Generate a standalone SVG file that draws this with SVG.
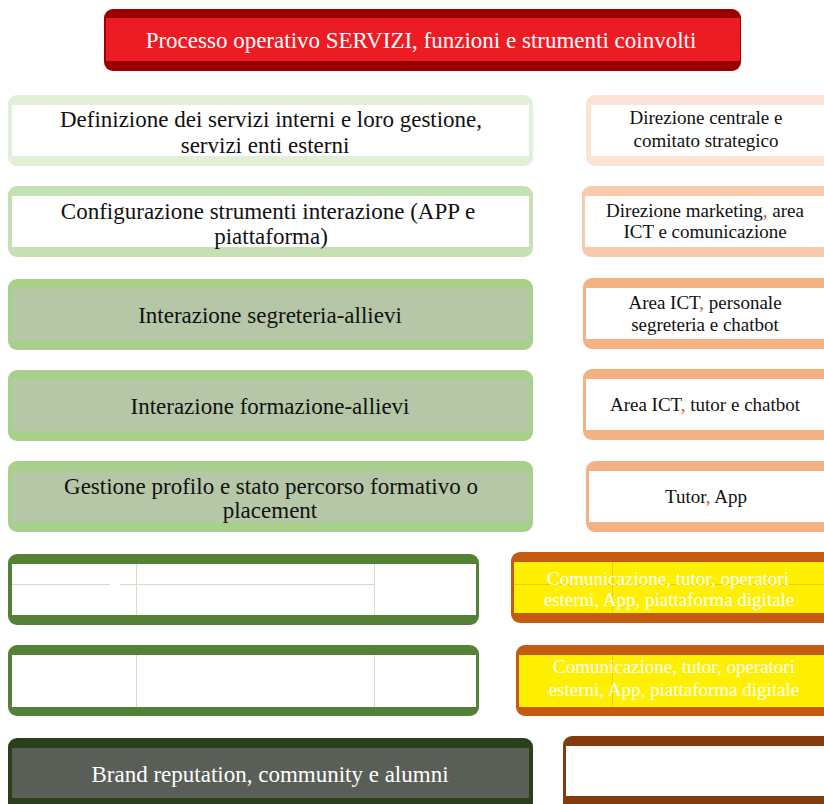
<svg xmlns="http://www.w3.org/2000/svg" width="824" height="804" viewBox="0 0 824 804">
  <style>
    text { font-family: "Liberation Serif", "Times New Roman", serif; text-anchor: middle; }
    .big { font-size: 23px; fill: #111; }
    .small { font-size: 19px; fill: #111; }
    .white { fill: #ffffff; }
    .grid { stroke: #d6dcc6; stroke-width: 1; fill: none; }
    .comma { fill: #c55a11; }
  </style>
  <rect width="824" height="804" fill="#ffffff"/>

  <!-- title -->
  <g id="title">
    <rect x="104" y="9" width="637" height="62" rx="9" fill="#990000"/>
    <rect x="106" y="18" width="634" height="43" fill="#ed1c24"/>
    <text x="421" y="48" class="white" style="font-size:23px">Processo operativo SERVIZI, funzioni e strumenti coinvolti</text>
  </g>

  <!-- process column -->
  <g id="p1">
    <rect x="8" y="95" width="525" height="71" rx="9" fill="#e2efd9"/>
    <rect x="12" y="105" width="517" height="51" fill="#ffffff"/>
    <text x="271" y="127" class="big">Definizione dei servizi interni e loro gestione,</text>
    <text x="265" y="153" class="big">servizi enti esterni</text>
  </g>
  <g id="p2">
    <rect x="8" y="186" width="525" height="71" rx="9" fill="#c5e0b3"/>
    <rect x="12" y="196" width="517" height="51" fill="#ffffff"/>
    <text x="268" y="219" class="big">Configurazione strumenti interazione (APP e</text>
    <text x="271" y="244" class="big">piattaforma)</text>
  </g>
  <g id="p3">
    <rect x="8" y="279" width="525" height="71" rx="9" fill="#a8d08d"/>
    <rect x="12" y="289" width="517" height="51" fill="#b6c7a7"/>
    <text x="270" y="323" class="big">Interazione segreteria-allievi</text>
  </g>
  <g id="p4">
    <rect x="8" y="370" width="525" height="71" rx="9" fill="#a8d08d"/>
    <rect x="12" y="380" width="517" height="51" fill="#b6c7a7"/>
    <text x="270" y="414" class="big">Interazione formazione-allievi</text>
  </g>
  <g id="p5">
    <rect x="8" y="461" width="525" height="71" rx="9" fill="#a8d08d"/>
    <rect x="12" y="471" width="517" height="51" fill="#b6c7a7"/>
    <text x="271" y="494" class="big">Gestione profilo e stato percorso formativo o</text>
    <text x="270" y="518" class="big">placement</text>
  </g>
  <g id="p6">
    <rect x="8" y="554" width="471" height="71" rx="9" fill="#538135"/>
    <rect x="12" y="564" width="464" height="51" fill="#ffffff"/>
    <path class="grid" d="M12 584.5 H110 M120 584.5 H375 M136.5 564 V615 M374.5 564 V615"/>
  </g>
  <g id="p7">
    <rect x="8" y="645" width="471" height="71" rx="9" fill="#538135"/>
    <rect x="12" y="655" width="464" height="52" fill="#ffffff"/>
    <path class="grid" d="M136.5 655 V707 M374.5 655 V707"/>
  </g>
  <g id="p8">
    <rect x="8" y="738" width="525" height="76" rx="9" fill="#2a3f1b"/>
    <rect x="12" y="748" width="517" height="50" fill="#595f57"/>
    <text x="270" y="782" class="white" style="font-size:23px">Brand reputation, community e alumni</text>
  </g>

  <!-- functions / tools column -->
  <g id="f1">
    <rect x="586" y="95" width="260" height="71" rx="9" fill="#fbe4d5"/>
    <rect x="591" y="105" width="250" height="51" fill="#ffffff"/>
    <text x="706" y="124" class="small">Direzione centrale e</text>
    <text x="706" y="147" class="small">comitato strategico</text>
  </g>
  <g id="f2">
    <rect x="582" y="186" width="264" height="71" rx="9" fill="#f7caac"/>
    <rect x="585" y="196" width="256" height="51" fill="#ffffff"/>
    <text x="705" y="217" class="small">Direzione marketing<tspan class="comma">,</tspan> area</text>
    <text x="705" y="238" class="small">ICT e comunicazione</text>
  </g>
  <g id="f3">
    <rect x="583" y="278" width="263" height="71" rx="9" fill="#f4b183"/>
    <rect x="586" y="288" width="255" height="51" fill="#ffffff"/>
    <text x="705" y="309" class="small">Area ICT<tspan class="comma">,</tspan> personale</text>
    <text x="705" y="331" class="small">segreteria e chatbot</text>
  </g>
  <g id="f4">
    <rect x="583" y="369" width="263" height="71" rx="9" fill="#f4b183"/>
    <rect x="586" y="379" width="255" height="51" fill="#ffffff"/>
    <text x="705" y="411" class="small">Area ICT<tspan class="comma">,</tspan> tutor e chatbot</text>
  </g>
  <g id="f5">
    <rect x="586" y="461" width="260" height="71" rx="9" fill="#f4b183"/>
    <rect x="589" y="471" width="252" height="51" fill="#ffffff"/>
    <text x="706" y="503" class="small">Tutor<tspan class="comma">,</tspan> App</text>
  </g>
  <g id="f6">
    <rect x="511" y="552" width="335" height="71" rx="9" fill="#c55a11"/>
    <rect x="514" y="562" width="327" height="51" fill="#ffef00"/>
    <path d="M514 584.5 H841 M612.5 562 V613" stroke="#e6d200" stroke-width="1" fill="none"/>
    <text x="668" y="585" class="small white">Comunicazione, tutor, operatori</text>
    <text x="669" y="606" class="small white">esterni, App, piattaforma digitale</text>
  </g>
  <g id="f7">
    <rect x="516" y="645" width="330" height="71" rx="9" fill="#c55a11"/>
    <rect x="519" y="655" width="322" height="52" fill="#ffef00"/>
    <path d="M612.5 655 V707" stroke="#e6d200" stroke-width="1" fill="none"/>
    <text x="674" y="673" class="small white">Comunicazione, tutor, operatori</text>
    <text x="674" y="696" class="small white">esterni, App, piattaforma digitale</text>
  </g>
  <g id="f8">
    <rect x="563" y="736" width="283" height="78" rx="9" fill="#843c0c"/>
    <rect x="566" y="746" width="275" height="50" fill="#ffffff"/>
  </g>

  <!-- no connectors are drawn between the two columns -->
  <g id="connectors"/>
</svg>
